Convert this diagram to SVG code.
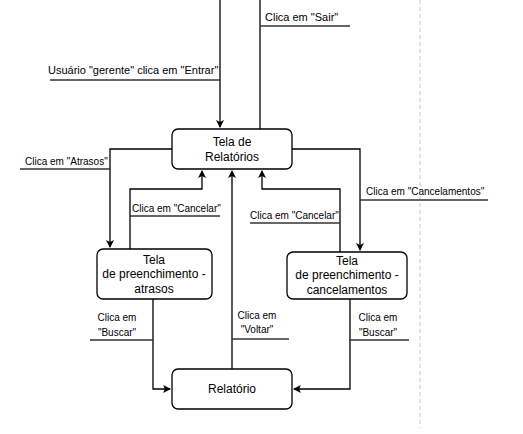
<svg xmlns="http://www.w3.org/2000/svg" width="523" height="434" viewBox="0 0 523 434">
<style>
.n{fill:#fff;stroke:#000;stroke-width:1.3}
.t{font-family:"Liberation Sans",Arial,sans-serif;font-size:12px;fill:#000;text-anchor:middle}
.m{font-family:"Liberation Sans",Arial,sans-serif;font-size:11px;fill:#000}
.s{font-family:"Liberation Sans",Arial,sans-serif;font-size:10px;fill:#000}
.c{fill:none;stroke:#000;stroke-width:1.3}
.u{fill:none;stroke:#333;stroke-width:1.3}
</style>
<defs>
<marker id="a" markerWidth="10" markerHeight="10" refX="7" refY="4" orient="auto" markerUnits="userSpaceOnUse">
<path d="M0,0 L8,4 L0,8 L2,4 Z" fill="#000"/>
</marker>
</defs>
<rect width="523" height="434" fill="#fff"/>
<line x1="420" y1="0" x2="420" y2="428" stroke="#c8c8c8" stroke-dasharray="4,3"/>
<g id="connectors">
<path class="c" d="M220,0 V127" marker-end="url(#a)"/>
<path class="c" d="M260,129 V0"/>
<path class="c" d="M172,149 H110 V247" marker-end="url(#a)"/>
<path class="c" d="M130,249 V189 H202 V171" marker-end="url(#a)"/>
<path class="c" d="M232,369 V171" marker-end="url(#a)"/>
<path class="c" d="M340,252 V189 H262 V171" marker-end="url(#a)"/>
<path class="c" d="M292,149 H360 V250" marker-end="url(#a)"/>
<path class="c" d="M153,299 V389 H170" marker-end="url(#a)"/>
<path class="c" d="M350,299 V389 H294" marker-end="url(#a)"/>
</g>
<g id="labels">
<text class="m" x="265" y="21">Clica em "Sair"</text>
<line class="u" x1="260" y1="26" x2="350" y2="26"/>
<text class="m" x="48" y="74">Usuário "gerente" clica em "Entrar"</text>
<line class="u" x1="50" y1="80" x2="220" y2="80"/>
<text class="s" x="25" y="165">Clica em "Atrasos"</text>
<line class="u" x1="20" y1="169" x2="110" y2="169"/>
<text class="s" x="132" y="212">Clica em "Cancelar"</text>
<line class="u" x1="130" y1="216" x2="220" y2="216"/>
<text class="s" x="250" y="219">Clica em "Cancelar"</text>
<line class="u" x1="250" y1="223" x2="340" y2="223"/>
<text class="s" x="366" y="195">Clica em "Cancelamentos"</text>
<line class="u" x1="360" y1="200" x2="488" y2="200"/>
<text class="s" x="117" y="321" style="text-anchor:middle">Clica em</text>
<text class="s" x="117" y="336" style="text-anchor:middle">"Buscar"</text>
<line class="u" x1="90" y1="340" x2="153" y2="340"/>
<text class="s" x="257" y="319" style="text-anchor:middle">Clica em</text>
<text class="s" x="257" y="333" style="text-anchor:middle">"Voltar"</text>
<line class="u" x1="232" y1="339" x2="289" y2="339"/>
<text class="s" x="378" y="321" style="text-anchor:middle">Clica em</text>
<text class="s" x="378" y="336" style="text-anchor:middle">"Buscar"</text>
<line class="u" x1="349" y1="340" x2="409" y2="340"/>
</g>
<g id="tela-relatorios">
<rect class="n" x="172" y="129" width="120" height="40" rx="6"/>
<text class="t" x="232" y="146">Tela de</text>
<text class="t" x="232" y="161">Relatórios</text>
</g>
<g id="tela-atrasos">
<rect class="n" x="97" y="249" width="115" height="50" rx="6"/>
<text class="t" x="154" y="264">Tela</text>
<text class="t" x="154" y="278">de preenchimento -</text>
<text class="t" x="154" y="293">atrasos</text>
</g>
<g id="tela-cancelamentos">
<rect class="n" x="287" y="252" width="120" height="47" rx="6"/>
<text class="t" x="347" y="265">Tela</text>
<text class="t" x="347" y="279">de preenchimento -</text>
<text class="t" x="347" y="294">cancelamentos</text>
</g>
<g id="relatorio">
<rect class="n" x="172" y="369" width="120" height="40" rx="6"/>
<text class="t" x="232" y="393">Relatório</text>
</g>
</svg>
